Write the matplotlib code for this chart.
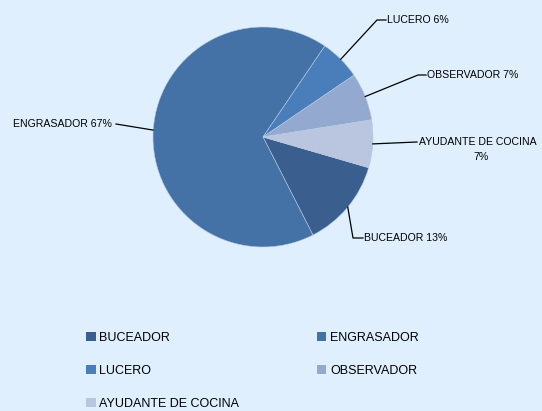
import numpy as np
import matplotlib.pyplot as plt
from matplotlib.patches import Patch

# datos del gráfico
labels = ['BUCEADOR', 'ENGRASADOR', 'LUCERO', 'OBSERVADOR', 'AYUDANTE DE COCINA']
values = [13, 67, 6, 7, 7]
pct_text = ['13%', '67%', '6%', '7%', '7%']
colors = ['#3A5F8E', '#4472A7', '#4A7EBB', '#94A9D0', '#BAC6DF']

bg = '#DFEFFD'
W, H = 542, 411
cx, cy, r = 263, H - 137, 110

plt.rcParams['font.family'] = ['Liberation Sans', 'DejaVu Sans']

fig = plt.figure(figsize=(W / 100, H / 100), dpi=100, facecolor=bg)
ax = fig.add_axes([0, 0, 1, 1])
ax.set_facecolor(bg)

start = -16.2
wedges, _ = ax.pie(values, colors=colors, startangle=start, counterclock=False,
                   center=(cx, cy), radius=r, frame=True,
                   wedgeprops=dict(edgecolor='#B8C9E2', linewidth=0.4))
ax.set_xlim(0, W)
ax.set_ylim(0, H)
ax.set_aspect('equal')
ax.axis('off')

# posiciones de las etiquetas (en pixeles, y hacia arriba)
label_pos = {
    'BUCEADOR': [(353, H - 238), (364, H - 238)],
    'ENGRASADOR': [(116, H - 124), (112, H - 124)],
    'LUCERO': [(377, H - 20), (387, H - 20)],
    'OBSERVADOR': [(418, H - 75), (427, H - 75)],
    'AYUDANTE DE COCINA': [(417, H - 142), (419, H - 142)],
}

for w, lab, pt in zip(wedges, labels, pct_text):
    mid = np.deg2rad((w.theta1 + w.theta2) / 2)
    ex, ey = cx + r * np.cos(mid), cy + r * np.sin(mid)
    (kx, ky), (tx, ty) = label_pos[lab]
    if lab == 'ENGRASADOR':
        ax.plot([ex, kx], [ey, ky], color='black', lw=0.9)
        ax.text(tx, ty, f'{lab} {pt}', ha='right', va='center', fontsize=7.6)
    elif lab == 'AYUDANTE DE COCINA':
        ax.plot([ex, kx], [ey, ky], color='black', lw=0.9)
        ax.text(tx, ty, lab, ha='left', va='center', fontsize=7.6)
        ax.text(481, ty - 15, pt, ha='center', va='center', fontsize=7.6)
    else:
        ax.plot([ex, kx, tx - 1], [ey, ky, ky], color='black', lw=0.9)
        ax.text(tx, ty, f'{lab} {pt}', ha='left', va='center', fontsize=7.6)

# leyenda (orden por filas)
order = [0, 2, 4, 1, 3]
handles = [Patch(facecolor=colors[i], edgecolor='none') for i in order]
leg = fig.legend(handles, [labels[i] for i in order], ncol=2,
                 loc='upper left', bbox_to_anchor=(75 / W, 1 - 321 / H),
                 frameon=False, fontsize=9, handlelength=0.75, handleheight=0.75,
                 handletextpad=0.3, labelspacing=1.68, columnspacing=6.2)

fig.savefig('out.png', dpi=100, facecolor=bg)
